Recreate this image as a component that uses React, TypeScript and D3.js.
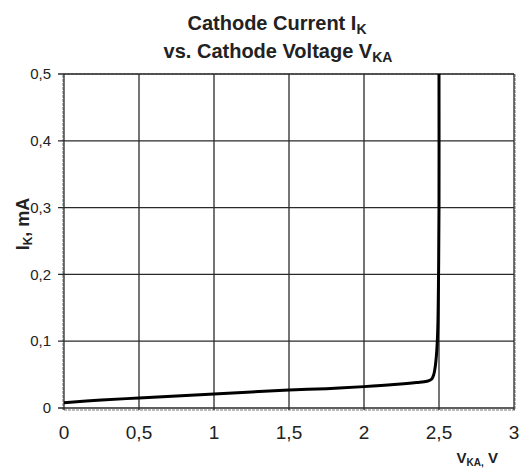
import { useEffect, useRef } from 'react'
import * as d3 from 'd3'

// cathode voltage (V) and cathode current (mA)
const vka = [0, 0.25, 0.5, 0.75, 1.0, 1.25, 1.5, 1.75, 2.0, 2.2, 2.35, 2.42, 2.45, 2.465, 2.475, 2.485, 2.492, 2.497, 2.5, 2.5]
const ik = [0.008, 0.012, 0.015, 0.018, 0.021, 0.024, 0.027, 0.029, 0.032, 0.035, 0.038, 0.04, 0.043, 0.05, 0.062, 0.085, 0.12, 0.2, 0.3, 0.5]

const xTicks = [0, 0.5, 1, 1.5, 2, 2.5, 3]
const yTicks = [0, 0.1, 0.2, 0.3, 0.4, 0.5]

const fmt = (v: number) => String(v).replace('.', ',')

const App = () => {
    const svgRef = useRef<SVGSVGElement>(null)

    useEffect(() => {
        if (!svgRef.current) return
        const svg = d3.select(svgRef.current)
        svg.selectAll('*').remove()

        const margin = { top: 74, right: 11, bottom: 62, left: 64 }
        const width = 525
        const height = 470

        const x = d3.scaleLinear().domain([0, 3]).range([margin.left, width - margin.right])
        const y = d3.scaleLinear().domain([0, 0.5]).range([height - margin.bottom, margin.top])

        const font = 'Liberation Sans, Arial, sans-serif'

        // plot frame (dashed, grey)
        svg.append('rect')
            .attr('x', x(0) - 1)
            .attr('y', y(0.5))
            .attr('width', x(3) - x(0) + 2)
            .attr('height', y(0) - y(0.5) + 2)
            .attr('fill', 'none')
            .attr('stroke', '#777')
            .attr('stroke-dasharray', '3,1')

        // grid
        svg.append('g')
            .selectAll('line')
            .data(xTicks)
            .join('line')
            .attr('x1', d => x(d))
            .attr('x2', d => x(d))
            .attr('y1', y(0.5))
            .attr('y2', y(0) + 2)
            .attr('stroke', '#2a2a2a')
            .attr('stroke-width', 1.3)

        svg.append('g')
            .selectAll('line')
            .data(yTicks)
            .join('line')
            .attr('x1', x(0) - 6)
            .attr('x2', x(3))
            .attr('y1', d => y(d))
            .attr('y2', d => y(d))
            .attr('stroke', '#2a2a2a')
            .attr('stroke-width', 1.3)

        // tick labels
        svg.append('g')
            .selectAll('text')
            .data(yTicks)
            .join('text')
            .attr('x', x(0) - 13)
            .attr('y', d => y(d))
            .attr('dy', '0.35em')
            .attr('text-anchor', 'end')
            .attr('font-family', font)
            .attr('font-size', 15)
            .attr('fill', '#222')
            .text(d => fmt(d))

        svg.append('g')
            .selectAll('text')
            .data(xTicks)
            .join('text')
            .attr('x', d => x(d))
            .attr('y', y(0) + 31)
            .attr('text-anchor', 'middle')
            .attr('font-family', font)
            .attr('font-size', 19)
            .attr('fill', '#222')
            .text(d => fmt(d))

        // curve
        const pts = vka.map((v, i) => ({ v, i: ik[i] }))
        svg.append('path')
            .datum(pts)
            .attr('fill', 'none')
            .attr('stroke', '#000')
            .attr('stroke-width', 3)
            .attr('stroke-linejoin', 'round')
            .attr(
                'd',
                d3
                    .line<{ v: number; i: number }>()
                    .x(d => x(d.v))
                    .y(d => y(d.i))
                    .curve(d3.curveCatmullRom.alpha(0.5))
            )

        // titles
        const t1 = svg.append('text')
            .attr('x', 277)
            .attr('y', 30)
            .attr('text-anchor', 'middle')
            .attr('font-family', font)
            .attr('font-weight', 'bold')
            .attr('font-size', 20)
            .attr('fill', '#222')
        t1.append('tspan').text('Cathode Current I')
        t1.append('tspan').attr('dy', 4).attr('font-size', 14).text('K')

        const t2 = svg.append('text')
            .attr('x', 278)
            .attr('y', 58)
            .attr('text-anchor', 'middle')
            .attr('font-family', font)
            .attr('font-weight', 'bold')
            .attr('font-size', 20)
            .attr('fill', '#222')
        t2.append('tspan').text('vs. Cathode Voltage V')
        t2.append('tspan').attr('dy', 4).attr('font-size', 14).text('KA')

        const xl = svg.append('text')
            .attr('x', 498)
            .attr('y', 463)
            .attr('text-anchor', 'end')
            .attr('font-family', font)
            .attr('font-weight', 'bold')
            .attr('font-size', 15)
            .attr('fill', '#222')
        xl.append('tspan').text('V')
        xl.append('tspan').attr('dy', 3).attr('font-size', 10).text('KA,')
        xl.append('tspan').attr('dy', -3).text(' V')

        const yl = svg.append('text')
            .attr('transform', 'translate(29,224) rotate(-90)')
            .attr('text-anchor', 'middle')
            .attr('font-family', font)
            .attr('font-weight', 'bold')
            .attr('font-size', 18)
            .attr('fill', '#222')
        yl.append('tspan').text('I')
        yl.append('tspan').attr('dy', 3).attr('font-size', 12).text('K')
        yl.append('tspan').attr('dy', -3).text(', mA')
    }, [])

    return (
        <svg
            ref={svgRef}
            width={525}
            height={470}
            style={{ position: 'absolute', left: 0, top: 0, background: '#fff' }}
        />
    )
}

export default App
